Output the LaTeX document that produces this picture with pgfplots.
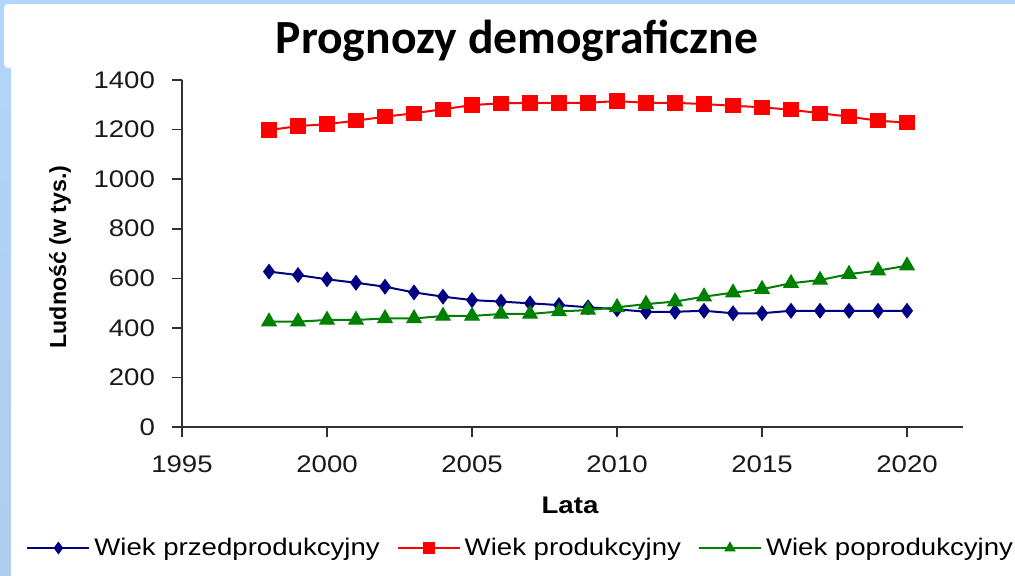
\documentclass[border=0pt]{standalone}
\usepackage{fontspec}
\setmainfont{Liberation Sans}[FakeStretch=1.15]
\newfontfamily\titlefont{Carlito}
\newfontfamily\ylabfont{Liberation Sans}
\usepackage{pgfplots}
\pgfplotsset{compat=1.18}
\definecolor{navyc}{HTML}{000080}
\definecolor{redc}{HTML}{FF0000}
\definecolor{greenc}{HTML}{008000}
\definecolor{axisgray}{HTML}{303030}
\definecolor{tickgray}{HTML}{1A1A1A}
\definecolor{bgtop}{HTML}{B2D5FB}
\definecolor{bgmid}{HTML}{86BDF3}
\definecolor{bgbot}{HTML}{AECDEF}
\begin{document}
\begin{tikzpicture}
\useasboundingbox (0,0) rectangle (507.5pt,-287.5pt);
\shade[top color=bgtop, middle color=bgmid, bottom color=bgbot] (0,0) rectangle (507.5pt,-287.5pt);
\fill[bgtop] (0,0) rectangle (507.5pt,-2pt);
\fill[white, rounded corners=2pt] (2pt,-2pt) rectangle (512pt,-34pt);
\fill[white] (5.5pt,-33pt) rectangle (512pt,-292pt);
\node[font=\titlefont\bfseries\fontsize{23.8}{28}\selectfont, anchor=base] at (258.5pt,-26.5pt) {Prognozy demograficzne};
\begin{axis}[
  at={(91pt,-213.5pt)}, anchor=south west,
  scale only axis, width=390.5pt, height=173.5pt,
  xmin=1995, xmax=2021.93, ymin=0, ymax=1400,
  axis x line*=bottom, axis y line*=left,
  axis line style={-, line width=0.8pt, color=axisgray},
  xtick={1995,2000,...,2020}, ytick={0,200,...,1400},
  tick align=outside, major tick length=5pt,
  tick style={line width=0.8pt, color=axisgray},
  /pgf/number format/assume math mode=true,
  x tick label style={/pgf/number format/1000 sep={}, yshift=-6pt},
  y tick label style={/pgf/number format/1000 sep={}, xshift=-5pt},
  tick label style={font=\fontsize{12}{14}\selectfont, text=tickgray},
  xlabel={Lata}, ylabel={\ylabfont Ludność (w tys.)},
  xlabel style={font=\bfseries\fontsize{12}{14}\selectfont, at={(axis description cs:0.4968,-0.2248)}, anchor=center},
  ylabel style={font=\bfseries\fontsize{11.6}{14}\selectfont, at={(axis description cs:-0.1562,0.49)}, anchor=center},
  clip=false,
  legend columns=3,
  legend style={draw=none, fill=none, at={(axis description cs:-0.1997,-0.3487)}, anchor=west,
    font=\fontsize{12}{14}\selectfont, inner sep=0pt,
    /tikz/every even column/.append style={column sep=6.5pt}},
  legend cell align=left,
  legend image code/.code={\draw[mark repeat=2,mark phase=2,mark size=2.8pt] plot coordinates {(0pt,0pt) (15.5pt,0pt) (31pt,0pt)};},
]
\addplot[color=navyc, line width=1pt, mark=diamond*, mark size=3.6pt, mark options={fill=navyc, line width=0.5pt}] coordinates {
(1998,627) (1999,613) (2000,596) (2001,582) (2002,566) (2003,543) (2004,526) (2005,512) (2006,506) (2007,499) (2008,492) (2009,483) (2010,475) (2011,465) (2012,465) (2013,469) (2014,459) (2015,459) (2016,469) (2017,469) (2018,469) (2019,469) (2020,469)};
\addlegendentry{Wiek przedprodukcyjny}
\addplot[color=redc, line width=1pt, mark=square*, mark size=3.6pt, mark options={fill=redc, line width=0.5pt}] coordinates {
(1998,1198) (1999,1214) (2000,1222) (2001,1236) (2002,1252) (2003,1266) (2004,1282) (2005,1299) (2006,1306) (2007,1308) (2008,1308) (2009,1308) (2010,1315) (2011,1308) (2012,1308) (2013,1303) (2014,1296) (2015,1290) (2016,1280) (2017,1266) (2018,1252) (2019,1236) (2020,1228)};
\addlegendentry{Wiek produkcyjny}
\addplot[color=greenc, line width=1pt, mark=triangle*, mark size=4.2pt, mark options={fill=greenc, line width=0.5pt}] coordinates {
(1998,425) (1999,425) (2000,432) (2001,432) (2002,438) (2003,438) (2004,448) (2005,448) (2006,456) (2007,456) (2008,466) (2009,472) (2010,483) (2011,496) (2012,506) (2013,526) (2014,542) (2015,556) (2016,580) (2017,593) (2018,617) (2019,631) (2020,651)};
\addlegendentry{Wiek poprodukcyjny}
\end{axis}
\end{tikzpicture}
\end{document}
